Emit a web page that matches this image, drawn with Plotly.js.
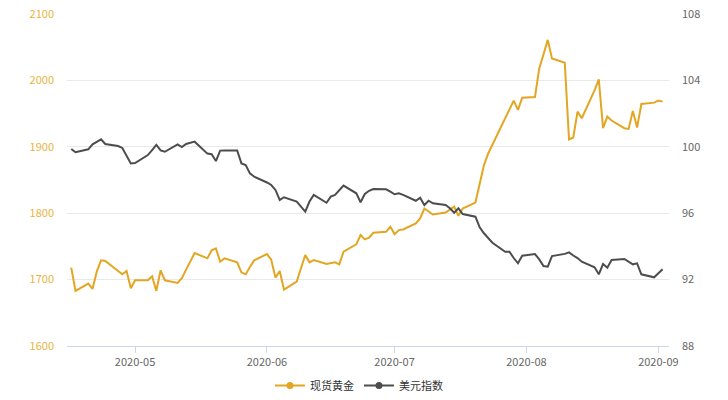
<!DOCTYPE html>
<html>
<head>
<meta charset="utf-8">
<script src="https://cdn.plot.ly/plotly-3.0.1.min.js"></script>
<style>
  html, body { margin: 0; padding: 0; background: #fff; }
  #chart { width: 728px; height: 400px; }
</style>
</head>
<body>
<div id="chart"></div>
<script>
// trading days
const dates = [
  '2020-04-16', '2020-04-17', '2020-04-20', '2020-04-21', '2020-04-22', '2020-04-23', '2020-04-24',
  '2020-04-27', '2020-04-28', '2020-04-29', '2020-04-30', '2020-05-01',
  '2020-05-04', '2020-05-05', '2020-05-06', '2020-05-07', '2020-05-08',
  '2020-05-11', '2020-05-12', '2020-05-13', '2020-05-14', '2020-05-15',
  '2020-05-18', '2020-05-19', '2020-05-20', '2020-05-21', '2020-05-22',
  '2020-05-25', '2020-05-26', '2020-05-27', '2020-05-28', '2020-05-29',
  '2020-06-01', '2020-06-02', '2020-06-03', '2020-06-04', '2020-06-05',
  '2020-06-08', '2020-06-09', '2020-06-10', '2020-06-11', '2020-06-12',
  '2020-06-15', '2020-06-16', '2020-06-17', '2020-06-18', '2020-06-19',
  '2020-06-22', '2020-06-23', '2020-06-24', '2020-06-25', '2020-06-26',
  '2020-06-29', '2020-06-30', '2020-07-01', '2020-07-02', '2020-07-03',
  '2020-07-06', '2020-07-07', '2020-07-08', '2020-07-09', '2020-07-10',
  '2020-07-13', '2020-07-14', '2020-07-15', '2020-07-16', '2020-07-17',
  '2020-07-20', '2020-07-21', '2020-07-22', '2020-07-23', '2020-07-24',
  '2020-07-27', '2020-07-28', '2020-07-29', '2020-07-30', '2020-07-31',
  '2020-08-03', '2020-08-04', '2020-08-05', '2020-08-06', '2020-08-07',
  '2020-08-10', '2020-08-11', '2020-08-12', '2020-08-13', '2020-08-14',
  '2020-08-17', '2020-08-18', '2020-08-19', '2020-08-20', '2020-08-21',
  '2020-08-24', '2020-08-25', '2020-08-26', '2020-08-27', '2020-08-28',
  '2020-08-31', '2020-09-01', '2020-09-02'
];

const gold = [
  1718, 1683, 1694, 1686, 1712, 1729, 1728,
  1713, 1708, 1713, 1687, 1699,
  1699, 1705, 1683, 1714, 1699,
  1695, 1702, 1715, 1728, 1740,
  1732, 1744, 1747, 1727, 1732,
  1726, 1711, 1708, 1719, 1729,
  1738.5, 1730, 1703, 1713, 1685,
  1697, 1717, 1737, 1726, 1729.5,
  1723.5, 1725, 1726, 1723, 1742,
  1753, 1767, 1760.5, 1763, 1770.5,
  1772, 1779.5, 1768.5, 1774.5, 1775.5,
  1784.5, 1792, 1807, 1803, 1798,
  1801, 1806, 1810, 1796, 1807,
  1816, 1842, 1872, 1890, 1903,
  1941, 1955, 1969.5, 1955.5, 1974,
  1975, 2018, 2039, 2061, 2033,
  2026.5, 1911, 1914, 1953, 1943,
  1985, 2001.5, 1928, 1945.5, 1939.5,
  1928, 1927, 1954, 1929, 1964.5,
  1966.5, 1969.5, 1968
];

const usdIndex = [
  99.87, 99.67, 99.85, 100.15, 100.3, 100.45, 100.17,
  100.05, 99.93, 99.45, 99.0, 99.02,
  99.5, 99.8, 100.11, 99.78, 99.7,
  100.15, 99.98, 100.17, 100.25, 100.31,
  99.59, 99.55, 99.14, 99.77, 99.78,
  99.78, 99.0, 98.9, 98.4, 98.2,
  97.85, 97.7, 97.4, 96.8, 96.96,
  96.7, 96.4, 96.09, 96.7, 97.1,
  96.63, 97.0, 97.1, 97.4, 97.66,
  97.2, 96.66, 97.16, 97.35, 97.46,
  97.44, 97.3, 97.14, 97.2, 97.1,
  96.75, 96.93, 96.49, 96.75, 96.6,
  96.49, 96.3, 96.03, 96.3, 95.95,
  95.79, 95.15, 94.79, 94.5, 94.22,
  93.68, 93.68, 93.3, 92.98, 93.44,
  93.54, 93.22, 92.82, 92.78, 93.42,
  93.55, 93.64, 93.45, 93.3, 93.08,
  92.74, 92.32, 92.94, 92.72, 93.18,
  93.24, 93.1, 92.92, 92.98, 92.32,
  92.14, 92.38, 92.62
];

const names = ['现货黄金', '美元指数'];
const goldColor = '#e3a623';
const usdColor = '#4d4d4d';

const traces = [
  {
    x: dates, y: gold, name: names[0], mode: 'lines', yaxis: 'y',
    line: { color: goldColor, width: 2 }, showlegend: false
  },
  {
    x: dates, y: usdIndex, name: names[1], mode: 'lines', yaxis: 'y2',
    line: { color: usdColor, width: 2 }, showlegend: false
  },
  // legend entries only (line with a dot, like the source)
  {
    x: [null], y: [null], name: names[0], mode: 'lines+markers',
    line: { color: goldColor, width: 2 }, marker: { color: goldColor, size: 7 }
  },
  {
    x: [null], y: [null], name: names[1], mode: 'lines+markers', yaxis: 'y2',
    line: { color: usdColor, width: 2 }, marker: { color: usdColor, size: 7 }
  }
];

const layout = {
  width: 728,
  height: 400,
  margin: { l: 67, r: 59, t: 14, b: 54, autoexpand: false },
  paper_bgcolor: '#fff',
  plot_bgcolor: '#fff',
  font: { family: '"Noto Sans CJK SC", "Noto Sans", sans-serif', size: 11, color: '#666' },
  showlegend: true,
  legend: {
    orientation: 'h',
    x: 0.485, xanchor: 'center',
    yref: 'container',
    y: 0, yanchor: 'bottom',
    font: { size: 11, color: '#333' },
    itemwidth: 30,
    tracegroupgap: 0
  },
  xaxis: {
    type: 'date',
    range: ['2020-04-15', '2020-09-03 12:00'],
    tick0: '2020-05-01',
    dtick: 'M1',
    tickformat: '%Y-%m',
    showgrid: false,
    showline: true,
    linecolor: '#ccd6eb',
    linewidth: 1,
    ticks: 'outside',
    ticklen: 6,
    tickcolor: '#ccd6eb',
    tickfont: { size: 11, color: '#666' },
    zeroline: false
  },
  yaxis: {
    range: [1600, 2100],
    dtick: 100,
    showgrid: true,
    gridcolor: '#e9e9e9',
    zeroline: false,
    showline: false,
    tickfont: { size: 11, color: '#e8b440' },
    ticklabelstandoff: 12
  },
  yaxis2: {
    range: [88, 108],
    dtick: 4,
    overlaying: 'y',
    side: 'right',
    showgrid: false,
    zeroline: false,
    showline: false,
    tickfont: { size: 11, color: '#666' },
    ticklabelstandoff: 12
  }
};

Plotly.newPlot('chart', traces, layout, { displayModeBar: false, staticPlot: true });
</script>
</body>
</html>
